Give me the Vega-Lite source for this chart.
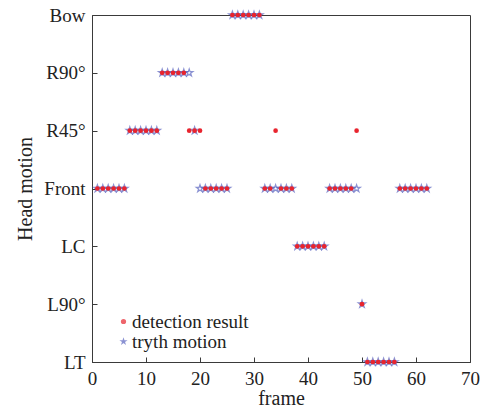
{
  "$schema": "https://vega.github.io/schema/vega-lite/v6.json",
  "autosize": "none",
  "width": 378,
  "height": 347,
  "padding": {"left": 92, "top": 15, "right": 14, "bottom": 50},
  "background": "white",
  "config": {
    "font": "Liberation Serif",
    "view": {"stroke": "#3a3a3a", "strokeWidth": 1},
    "axis": {"labelFont": "Liberation Serif", "titleFont": "Liberation Serif", "labelFontSize": 19, "titleFontSize": 20, "labelColor": "#222", "titleColor": "#222", "titleFontWeight": "normal", "domainColor": "#3a3a3a", "tickColor": "#3a3a3a", "grid": false}
  },
  "datasets": {
    "truth": [
      {"frame": 1, "motion": 3}, {"frame": 2, "motion": 3}, {"frame": 3, "motion": 3}, {"frame": 4, "motion": 3}, {"frame": 5, "motion": 3}, {"frame": 6, "motion": 3},
      {"frame": 7, "motion": 4}, {"frame": 8, "motion": 4}, {"frame": 9, "motion": 4}, {"frame": 10, "motion": 4}, {"frame": 11, "motion": 4}, {"frame": 12, "motion": 4},
      {"frame": 13, "motion": 5}, {"frame": 14, "motion": 5}, {"frame": 15, "motion": 5}, {"frame": 16, "motion": 5}, {"frame": 17, "motion": 5}, {"frame": 18, "motion": 5},
      {"frame": 19, "motion": 4},
      {"frame": 20, "motion": 3}, {"frame": 21, "motion": 3}, {"frame": 22, "motion": 3}, {"frame": 23, "motion": 3}, {"frame": 24, "motion": 3}, {"frame": 25, "motion": 3},
      {"frame": 26, "motion": 6}, {"frame": 27, "motion": 6}, {"frame": 28, "motion": 6}, {"frame": 29, "motion": 6}, {"frame": 30, "motion": 6}, {"frame": 31, "motion": 6},
      {"frame": 32, "motion": 3}, {"frame": 33, "motion": 3}, {"frame": 34, "motion": 3}, {"frame": 35, "motion": 3}, {"frame": 36, "motion": 3}, {"frame": 37, "motion": 3},
      {"frame": 38, "motion": 2}, {"frame": 39, "motion": 2}, {"frame": 40, "motion": 2}, {"frame": 41, "motion": 2}, {"frame": 42, "motion": 2}, {"frame": 43, "motion": 2},
      {"frame": 44, "motion": 3}, {"frame": 45, "motion": 3}, {"frame": 46, "motion": 3}, {"frame": 47, "motion": 3}, {"frame": 48, "motion": 3}, {"frame": 49, "motion": 3},
      {"frame": 50, "motion": 1},
      {"frame": 51, "motion": 0}, {"frame": 52, "motion": 0}, {"frame": 53, "motion": 0}, {"frame": 54, "motion": 0}, {"frame": 55, "motion": 0}, {"frame": 56, "motion": 0},
      {"frame": 57, "motion": 3}, {"frame": 58, "motion": 3}, {"frame": 59, "motion": 3}, {"frame": 60, "motion": 3}, {"frame": 61, "motion": 3}, {"frame": 62, "motion": 3}
    ],
    "detect": [
      {"frame": 1, "motion": 3}, {"frame": 2, "motion": 3}, {"frame": 3, "motion": 3}, {"frame": 4, "motion": 3}, {"frame": 5, "motion": 3}, {"frame": 6, "motion": 3},
      {"frame": 7, "motion": 4}, {"frame": 8, "motion": 4}, {"frame": 9, "motion": 4}, {"frame": 10, "motion": 4}, {"frame": 11, "motion": 4}, {"frame": 12, "motion": 4},
      {"frame": 13, "motion": 5}, {"frame": 14, "motion": 5}, {"frame": 15, "motion": 5}, {"frame": 16, "motion": 5}, {"frame": 17, "motion": 5}, {"frame": 18, "motion": 4},
      {"frame": 19, "motion": 4},
      {"frame": 20, "motion": 4}, {"frame": 21, "motion": 3}, {"frame": 22, "motion": 3}, {"frame": 23, "motion": 3}, {"frame": 24, "motion": 3}, {"frame": 25, "motion": 3},
      {"frame": 26, "motion": 6}, {"frame": 27, "motion": 6}, {"frame": 28, "motion": 6}, {"frame": 29, "motion": 6}, {"frame": 30, "motion": 6}, {"frame": 31, "motion": 6},
      {"frame": 32, "motion": 3}, {"frame": 33, "motion": 3}, {"frame": 34, "motion": 4}, {"frame": 35, "motion": 3}, {"frame": 36, "motion": 3}, {"frame": 37, "motion": 3},
      {"frame": 38, "motion": 2}, {"frame": 39, "motion": 2}, {"frame": 40, "motion": 2}, {"frame": 41, "motion": 2}, {"frame": 42, "motion": 2}, {"frame": 43, "motion": 2},
      {"frame": 44, "motion": 3}, {"frame": 45, "motion": 3}, {"frame": 46, "motion": 3}, {"frame": 47, "motion": 3}, {"frame": 48, "motion": 3}, {"frame": 49, "motion": 4},
      {"frame": 50, "motion": 1},
      {"frame": 51, "motion": 0}, {"frame": 52, "motion": 0}, {"frame": 53, "motion": 0}, {"frame": 54, "motion": 0}, {"frame": 55, "motion": 0}, {"frame": 56, "motion": 0},
      {"frame": 57, "motion": 3}, {"frame": 58, "motion": 3}, {"frame": 59, "motion": 3}, {"frame": 60, "motion": 3}, {"frame": 61, "motion": 3}, {"frame": 62, "motion": 3}
    ]
  },
  "encoding": {
    "x": {"field": "frame", "type": "quantitative", "scale": {"domain": [0, 70], "nice": false, "zero": false},
      "axis": {"values": [0, 10, 20, 30, 40, 50, 60, 70], "title": "frame", "tickSize": -5, "labelPadding": 12, "titlePadding": 0, "labelFlush": false}},
    "y": {"field": "motion", "type": "quantitative", "scale": {"domain": [0, 6], "nice": false, "zero": false},
      "axis": {"values": [0, 1, 2, 3, 4, 5, 6], "title": "Head motion", "tickSize": -5, "labelPadding": 12, "titlePadding": 8, "labelFlush": false,
        "labelExpr": "['LT','L90°','LC','Front','R45°','R90°','Bow'][datum.value]"}}
  },
  "layer": [
    {
      "data": {"name": "truth"},
      "transform": [{"calculate": "'tryth motion'", "as": "series"}],
      "mark": {"type": "point", "shape": "M0,-1L0.2245,-0.309L0.9511,-0.309L0.3633,0.118L0.5878,0.809L0,0.382L-0.5878,0.809L-0.3633,0.118L-0.9511,-0.309L-0.2245,-0.309Z", "size": 60, "filled": false, "strokeWidth": 1.2, "clip": false},
      "encoding": {
        "color": {"field": "series", "type": "nominal",
          "scale": {"domain": ["detection result", "tryth motion"], "range": ["#e8242e", "#5a64c0"]},
          "legend": {"orient": "none", "legendX": 22, "legendY": 297, "title": null, "labelFont": "Liberation Serif", "labelFontSize": 19, "labelColor": "#222", "rowPadding": -2, "symbolSize": 14, "labelOffset": -1}},
        "shape": {"field": "series", "type": "nominal",
          "scale": {"domain": ["detection result", "tryth motion"], "range": ["circle", "M0,-1L0.2245,-0.309L0.9511,-0.309L0.3633,0.118L0.5878,0.809L0,0.382L-0.5878,0.809L-0.3633,0.118L-0.9511,-0.309L-0.2245,-0.309Z"]},
          "legend": null}
      }
    },
    {
      "data": {"name": "detect"},
      "transform": [{"calculate": "'detection result'", "as": "series"}],
      "mark": {"type": "point", "size": 22, "filled": true, "opacity": 1, "clip": false},
      "encoding": {
        "color": {"field": "series", "type": "nominal"},
        "shape": {"field": "series", "type": "nominal"}
      }
    }
  ]
}
